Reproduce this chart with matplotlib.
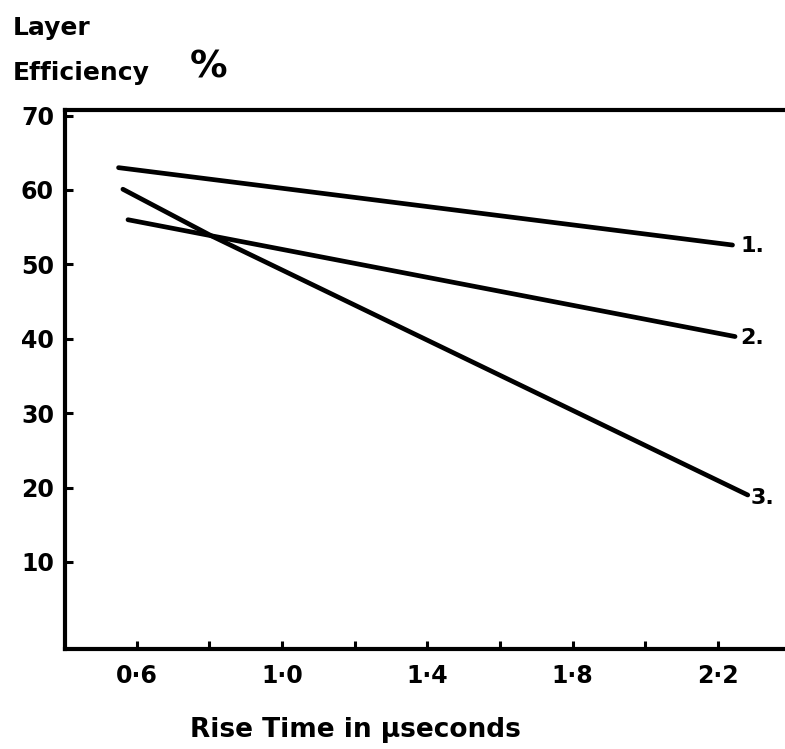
"""Layer efficiency vs rise time: three straight-line fits, old hand-drawn style."""
import matplotlib
matplotlib.use('Agg')
import matplotlib.pyplot as plt

# ── Data ──
x_line1 = [0.55, 2.24]
y_line1 = [63.0, 52.6]
x_line2 = [0.576, 2.247]
y_line2 = [56.0, 40.3]
x_line3 = [0.562, 0.807, 2.282]
y_line3 = [60.1, 53.8, 19.0]
line_labels = ['1.', '2.', '3.']

x_ticks = [0.6, 0.8, 1.0, 1.2, 1.4, 1.6, 1.8, 2.0, 2.2]
x_ticklabels = ['0\u00b76', '', '1\u00b70', '', '1\u00b74', '', '1\u00b78', '', '2\u00b72']
y_ticks = [10, 20, 30, 40, 50, 60, 70]

plt.rcParams['font.family'] = ['DejaVu Sans']
plt.rcParams['font.weight'] = 'bold'

fig = plt.figure(figsize=(7.85, 7.49), dpi=100, facecolor='white')
ax = fig.add_axes([65 / 785, 1 - 649 / 749, 1 - 65 / 785, (649 - 110) / 749])

lw = 3.4
series = [(x_line1, y_line1), (x_line2, y_line2), (x_line3, y_line3)]
offsets = [(6, -1), (4, -1), (2, -2)]
for (xs, ys), lab, off in zip(series, line_labels, offsets):
    ax.plot(xs, ys, color='black', linewidth=lw, solid_capstyle='round',
            solid_joinstyle='round')
    ax.annotate(lab, (xs[-1], ys[-1]), xytext=off, textcoords='offset points',
                fontsize=16, fontweight='bold', va='center', ha='left')

ax.set_xlim(0.4026, 2.3845)
ax.set_ylim(-1.7, 70.75)

ax.set_xticks(x_ticks)
ax.set_xticklabels(x_ticklabels)
ax.set_yticks(y_ticks)
ax.set_yticklabels([str(v) for v in y_ticks])
ax.tick_params(axis='both', direction='in', length=6, width=2.2, labelsize=17)
ax.tick_params(axis='x', pad=11)
ax.tick_params(axis='y', pad=8)

for side in ['left', 'bottom', 'top']:
    ax.spines[side].set_linewidth(3)
ax.spines['right'].set_visible(False)

# Axis titles
fig.text(355 / 785, 1 - 730 / 749, 'Rise Time in \u03bcseconds', fontsize=19,
         fontweight='bold', ha='center', va='center')
fig.text(13 / 785, 1 - 28 / 749, 'Layer', fontsize=18, fontweight='bold',
         ha='left', va='center')
fig.text(13 / 785, 1 - 73 / 749, 'Efficiency', fontsize=18, fontweight='bold',
         ha='left', va='center')
fig.text(190 / 785, 1 - 68 / 749, '%', fontsize=27, fontweight='bold',
         ha='left', va='center')

plt.savefig('out.png', dpi=100, facecolor='white')
plt.close()
